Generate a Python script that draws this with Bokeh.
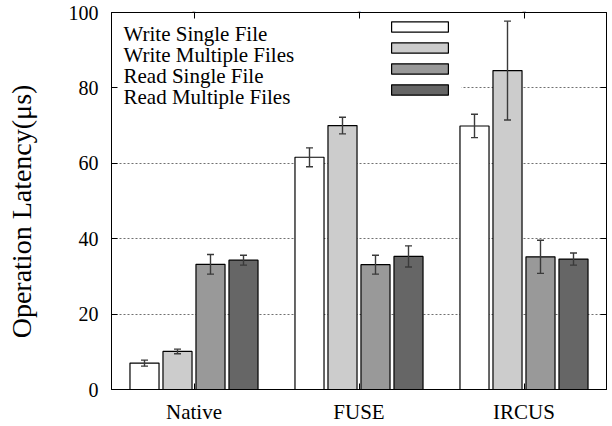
from bokeh.plotting import figure
from bokeh.models import (ColumnDataSource, FactorRange, Range1d, Whisker, TeeHead,
                          Legend, LegendItem, Label, BoxAnnotation, FixedTicker,
                          LinearAxis, CategoricalAxis)
from bokeh.transform import dodge
from bokeh.embed import file_html
from bokeh.resources import INLINE

# ---------------- data ----------------
systems = ["Native", "FUSE", "IRCUS"]
series_names = ["Write Single File", "Write Multiple Files",
                "Read Single File", "Read Multiple Files"]
write_single = [7.0, 61.6, 69.9]
write_single_err = [0.8, 2.5, 3.1]
write_multi = [10.1, 70.0, 84.6]
write_multi_err = [0.6, 2.2, 13.1]
read_single = [33.2, 33.1, 35.2]
read_single_err = [2.6, 2.5, 4.4]
read_multi = [34.3, 35.3, 34.6]
read_multi_err = [1.3, 2.8, 1.6]
y_ticks = [0, 20, 40, 60, 80, 100]

# ---------------- styles ----------------
FONT = "Liberation Serif"
fills = ["#ffffff", "#cccccc", "#999999", "#666666"]
offsets = [-0.3, -0.1, 0.1, 0.3]
BAR_W = 0.176
ERR_COLOR = "#3a3a3a"

values = [write_single, write_multi, read_single, read_multi]
errors = [write_single_err, write_multi_err, read_single_err, read_multi_err]

data = dict(system=systems)
for i, (v, e) in enumerate(zip(values, errors)):
    data[f"v{i}"] = v
    data[f"up{i}"] = [a + b for a, b in zip(v, e)]
    data[f"lo{i}"] = [a - b for a, b in zip(v, e)]
src = ColumnDataSource(data)

p = figure(x_range=FactorRange(factors=systems, range_padding=0),
           y_range=Range1d(0, 100),
           width=612, height=426,
           output_backend="svg", toolbar_location=None,
           min_border_left=111, min_border_right=6,
           min_border_top=12, min_border_bottom=36)

p.outline_line_color = "black"
p.outline_line_width = 1
p.background_fill_color = "white"
p.border_fill_color = "white"

# grid
p.xgrid.visible = False
p.ygrid.ticker = FixedTicker(ticks=y_ticks[1:-1])
p.ygrid.grid_line_color = "#707070"
p.ygrid.grid_line_dash = "2 2"
p.ygrid.grid_line_width = 1

# white background behind legend (hides the gridline like the reference)
p.add_layout(BoxAnnotation(left=1, right=350, bottom=262, top=376,
                           left_units="screen", right_units="screen",
                           top_units="screen", bottom_units="screen",
                           fill_color="white", fill_alpha=1.0,
                           line_alpha=0, level="underlay"))

bars = []
for i in range(4):
    x = dodge("system", offsets[i], range=p.x_range)
    r = p.vbar(x=x, top=f"v{i}", width=BAR_W, source=src,
               fill_color=fills[i], line_color="black", line_width=1.2)
    bars.append(r)
    w = Whisker(base=dodge("system", offsets[i], range=p.x_range),
                upper=f"up{i}", lower=f"lo{i}", source=src, level="annotation",
                line_color=ERR_COLOR, line_width=1.4,
                upper_head=TeeHead(size=7, line_color=ERR_COLOR, line_width=1.4),
                lower_head=TeeHead(size=7, line_color=ERR_COLOR, line_width=1.4))
    p.add_layout(w)

# axes
yax = p.yaxis[0]
yax.ticker = FixedTicker(ticks=y_ticks)
yax.axis_label = "Operation Latency(μs)\u00a0\u00a0\u00a0"
yax.axis_label_text_font = FONT
yax.axis_label_text_font_size = "28px"
yax.axis_label_text_font_style = "normal"
yax.axis_label_text_color = "black"
yax.axis_label_standoff = 29
yax.major_label_text_font = FONT
yax.major_label_text_font_size = "20px"
yax.major_label_text_color = "black"
yax.major_label_standoff = 13
yax.major_tick_in = 6
yax.major_tick_out = 0
yax.minor_tick_in = 0
yax.minor_tick_out = 0
yax.axis_line_color = "black"
yax.major_tick_line_color = "black"

xax = p.xaxis[0]
xax.major_label_text_font = FONT
xax.major_label_text_font_size = "21px"
xax.major_label_text_color = "black"
xax.major_label_standoff = 10
xax.major_tick_in = 6
xax.major_tick_out = 0
xax.axis_line_color = "black"
xax.major_tick_line_color = "black"

# mirrored ticks on right and top (no labels)
rax = LinearAxis(ticker=FixedTicker(ticks=y_ticks),
                 major_label_overrides={t: "" for t in y_ticks},
                 major_label_text_font_size="1px", major_label_standoff=0,
                 major_tick_in=6, major_tick_out=0, minor_tick_in=0, minor_tick_out=0,
                 axis_line_color="black", major_tick_line_color="black")
p.add_layout(rax, "right")
tax = CategoricalAxis(major_label_overrides={s: "" for s in systems},
                      major_label_text_font_size="1px", major_label_standoff=0,
                      major_tick_in=6, major_tick_out=0,
                      axis_line_color="black", major_tick_line_color="black")
p.add_layout(tax, "above")

# legend: swatches (right) and texts (left)
legend = Legend(items=[LegendItem(label=" ", renderers=[r]) for r in bars],
                location=(273, 293), padding=0, margin=0, spacing=8,
                glyph_width=71, glyph_height=13, label_width=0, label_height=13,
                label_standoff=0, label_text_font_size="1px",
                background_fill_alpha=0, border_line_alpha=0)
p.add_layout(legend)

for i, name in enumerate(series_names):
    p.add_layout(Label(x=12, y=355.7 - i * 21.1, x_units="screen", y_units="screen",
                       text=name, text_font=FONT, text_font_size="21px",
                       text_color="black", text_baseline="alphabetic",
                       text_align="left"))

open("out.html", "w").write(file_html(p, INLINE))
